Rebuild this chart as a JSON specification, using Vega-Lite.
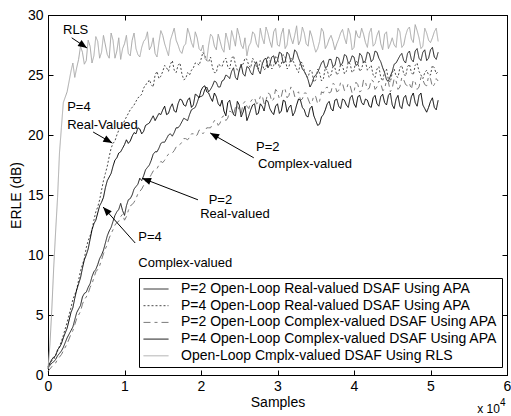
{
"$schema":"https://vega.github.io/schema/vega-lite/v6.json",
"width":459,"height":360,
"autosize":{"type":"none"},
"padding":{"left":48,"top":15,"right":4,"bottom":41},
"config":{
 "view":{"stroke":"#000","strokeWidth":1},
 "font":"Liberation Sans",
 "axis":{"domainColor":"#000","tickColor":"#000","labelColor":"#000","titleColor":"#000","labelFont":"Liberation Sans","titleFont":"Liberation Sans","labelFontSize":14,"titleFontSize":14,"titleFontWeight":"normal","grid":false,"labelBound":false,"labelOverlap":false,"labelFlush":false}
},
"datasets":{
 "curves":[
{"x":0,"a":0.6,"b":0.5,"c":0.3,"d":0.7,"e":0.5},
{"x":0.025,"a":0.8,"b":0.9,"c":0.5,"d":1.0,"e":2.5},
{"x":0.05,"a":1.0,"b":1.2,"c":0.7,"d":1.3,"e":5.5},
{"x":0.075,"a":1.1,"b":1.3,"c":0.9,"d":1.5,"e":9},
{"x":0.1,"a":1.3,"b":1.7,"c":1.0,"d":1.6,"e":12},
{"x":0.125,"a":1.6,"b":2.0,"c":1.3,"d":2.1,"e":14.8},
{"x":0.15,"a":1.8,"b":2.4,"c":1.5,"d":2.3,"e":18.5},
{"x":0.175,"a":2.0,"b":2.8,"c":1.7,"d":2.6,"e":20.6},
{"x":0.2,"a":2.3,"b":3.3,"c":2.0,"d":3.1,"e":22.7},
{"x":0.25,"a":3.1,"b":4.4,"c":2.6,"d":3.9,"e":23.6},
{"x":0.3,"a":3.7,"b":5.6,"c":3.4,"d":5.2,"e":25.3},
{"x":0.35,"a":4.6,"b":6.7,"c":4.2,"d":6.4,"e":24.8},
{"x":0.4,"a":5.5,"b":7.9,"c":5.0,"d":7.6,"e":26.3},
{"x":0.45,"a":6.5,"b":9.2,"c":5.9,"d":8.9,"e":26.9},
{"x":0.5,"a":6.9,"b":10.6,"c":6.5,"d":10.0,"e":26.2},
{"x":0.55,"a":7.6,"b":11.6,"c":7.3,"d":11.3,"e":27.4},
{"x":0.6,"a":8.6,"b":12.9,"c":8.1,"d":12.6,"e":26.6},
{"x":0.65,"a":9.2,"b":14.0,"c":8.8,"d":13.5,"e":27.8},
{"x":0.7,"a":10.0,"b":15.4,"c":9.6,"d":14.4,"e":26.9},
{"x":0.75,"a":11.0,"b":16.8,"c":10.5,"d":15.6,"e":27.5},
{"x":0.8,"a":12.0,"b":18.2,"c":11.4,"d":16.5,"e":26.4},
{"x":0.85,"a":12.8,"b":19.3,"c":12.1,"d":17.4,"e":27.9},
{"x":0.9,"a":13.6,"b":20.0,"c":12.7,"d":18.1,"e":27.0},
{"x":0.95,"a":14.3,"b":20.6,"c":13.2,"d":18.6,"e":26.3},
{"x":1.0,"a":13.3,"b":21.2,"c":12.9,"d":19.2,"e":27.6},
{"x":1.05,"a":14.6,"b":21.8,"c":13.7,"d":19.3,"e":26.8},
{"x":1.1,"a":15.0,"b":22.3,"c":14.2,"d":19.9,"e":27.9},
{"x":1.15,"a":15.7,"b":22.8,"c":14.7,"d":20.1,"e":27.2},
{"x":1.2,"a":16.4,"b":23.2,"c":15.3,"d":20.5,"e":26.5},
{"x":1.25,"a":16.6,"b":23.9,"c":15.8,"d":20.3,"e":27.8},
{"x":1.3,"a":17.3,"b":24.3,"c":16.3,"d":20.9,"e":28.6},
{"x":1.35,"a":17.9,"b":24.2,"c":16.7,"d":21.3,"e":27.4},
{"x":1.4,"a":18.6,"b":25.0,"c":17.1,"d":21.2,"e":26.8},
{"x":1.45,"a":18.9,"b":24.7,"c":17.5,"d":21.8,"e":27.7},
{"x":1.5,"a":19.4,"b":25.3,"c":17.7,"d":22.1,"e":28.3},
{"x":1.55,"a":19.7,"b":25.6,"c":18.2,"d":21.7,"e":27.1},
{"x":1.6,"a":20.1,"b":25.9,"c":18.5,"d":22.3,"e":27.9},
{"x":1.65,"a":20.2,"b":25.4,"c":18.7,"d":22.0,"e":28.9},
{"x":1.7,"a":20.6,"b":25.8,"c":19.1,"d":22.6,"e":27.5},
{"x":1.75,"a":21.1,"b":25.1,"c":19.4,"d":22.9,"e":26.8},
{"x":1.8,"a":21.3,"b":24.7,"c":19.7,"d":22.4,"e":27.6},
{"x":1.85,"a":21.7,"b":25.0,"c":19.8,"d":23.1,"e":28.4},
{"x":1.9,"a":22.2,"b":25.6,"c":20.1,"d":22.5,"e":27.3},
{"x":1.95,"a":22.7,"b":26.0,"c":20.0,"d":23.3,"e":28.1},
{"x":2.0,"a":23.2,"b":26.3,"c":20.4,"d":23.7,"e":27.0},
{"x":2.05,"a":23.8,"b":26.6,"c":20.3,"d":24.1,"e":26.4},
{"x":2.1,"a":23.6,"b":26.1,"c":20.6,"d":23.5,"e":27.5},
{"x":2.15,"a":24.1,"b":25.6,"c":20.9,"d":22.8,"e":28.2},
{"x":2.2,"a":24.4,"b":25.2,"c":21.2,"d":23.2,"e":27.1},
{"x":2.25,"a":24.0,"b":25.8,"c":21.0,"d":22.4,"e":27.8},
{"x":2.3,"a":24.6,"b":26.2,"c":21.6,"d":22.0,"e":26.9},
{"x":2.35,"a":24.9,"b":25.7,"c":21.4,"d":22.7,"e":27.9},
{"x":2.4,"a":25.3,"b":26.4,"c":21.9,"d":22.2,"e":28.7},
{"x":2.45,"a":24.8,"b":25.9,"c":22.3,"d":21.6,"e":27.4},
{"x":2.5,"a":25.4,"b":25.3,"c":22.0,"d":22.5,"e":28.3},
{"x":2.55,"a":25.1,"b":25.9,"c":22.6,"d":21.9,"e":27.2},
{"x":2.6,"a":25.7,"b":26.3,"c":22.4,"d":21.2,"e":26.6},
{"x":2.65,"a":25.2,"b":25.6,"c":22.8,"d":22.1,"e":27.7},
{"x":2.7,"a":25.8,"b":26.1,"c":23.1,"d":22.6,"e":28.4},
{"x":2.75,"a":25.4,"b":25.5,"c":22.7,"d":21.8,"e":27.3},
{"x":2.8,"a":25.9,"b":26.0,"c":23.3,"d":22.4,"e":28.1},
{"x":2.85,"a":26.4,"b":25.6,"c":22.9,"d":22.9,"e":29.0},
{"x":2.9,"a":25.9,"b":26.3,"c":23.4,"d":22.2,"e":27.8},
{"x":2.95,"a":26.6,"b":25.8,"c":23.0,"d":21.7,"e":28.6},
{"x":3.0,"a":26.2,"b":26.4,"c":23.6,"d":22.6,"e":27.5},
{"x":3.05,"a":26.8,"b":25.9,"c":23.2,"d":22.0,"e":28.4},
{"x":3.1,"a":26.1,"b":26.5,"c":23.8,"d":22.8,"e":27.2},
{"x":3.15,"a":26.7,"b":25.7,"c":23.3,"d":22.3,"e":28.8},
{"x":3.2,"a":26.3,"b":26.2,"c":23.9,"d":21.6,"e":27.6},
{"x":3.25,"a":26.9,"b":25.5,"c":23.4,"d":22.5,"e":29.1},
{"x":3.3,"a":26.0,"b":26.1,"c":22.9,"d":22.9,"e":27.9},
{"x":3.35,"a":25.3,"b":25.4,"c":23.5,"d":22.1,"e":28.5},
{"x":3.4,"a":24.6,"b":24.8,"c":23.0,"d":21.5,"e":27.4},
{"x":3.45,"a":24.3,"b":25.3,"c":22.7,"d":22.4,"e":28.2},
{"x":3.5,"a":25.0,"b":24.6,"c":23.2,"d":21.2,"e":26.9},
{"x":3.55,"a":25.6,"b":25.2,"c":22.8,"d":20.9,"e":27.8},
{"x":3.6,"a":26.2,"b":24.7,"c":23.5,"d":21.7,"e":28.6},
{"x":3.65,"a":25.7,"b":25.4,"c":24.0,"d":22.6,"e":27.5},
{"x":3.7,"a":26.3,"b":25.0,"c":23.6,"d":22.2,"e":28.3},
{"x":3.75,"a":25.8,"b":25.6,"c":24.2,"d":22.9,"e":27.1},
{"x":3.8,"a":26.4,"b":25.2,"c":23.7,"d":22.4,"e":28.0},
{"x":3.85,"a":26.0,"b":25.8,"c":24.3,"d":23.0,"e":28.8},
{"x":3.9,"a":26.6,"b":25.3,"c":23.8,"d":22.5,"e":27.6},
{"x":3.95,"a":26.1,"b":25.9,"c":24.1,"d":23.1,"e":28.4},
{"x":4.0,"a":26.5,"b":25.4,"c":23.6,"d":22.6,"e":27.3},
{"x":4.05,"a":25.9,"b":26.0,"c":24.2,"d":23.2,"e":28.2},
{"x":4.1,"a":26.6,"b":25.5,"c":23.7,"d":22.7,"e":28.9},
{"x":4.15,"a":26.2,"b":26.1,"c":24.4,"d":23.0,"e":27.7},
{"x":4.2,"a":26.8,"b":25.6,"c":23.9,"d":22.4,"e":28.5},
{"x":4.25,"a":26.3,"b":25.0,"c":24.5,"d":23.1,"e":27.4},
{"x":4.3,"a":26.9,"b":25.5,"c":24.0,"d":22.6,"e":28.3},
{"x":4.35,"a":26.1,"b":24.8,"c":24.3,"d":23.2,"e":27.6},
{"x":4.4,"a":25.2,"b":25.3,"c":23.8,"d":22.7,"e":28.4},
{"x":4.45,"a":24.5,"b":24.6,"c":24.4,"d":23.3,"e":27.2},
{"x":4.5,"a":25.3,"b":25.2,"c":23.9,"d":22.5,"e":28.1},
{"x":4.55,"a":26.0,"b":24.9,"c":24.5,"d":23.0,"e":27.3},
{"x":4.6,"a":26.6,"b":25.6,"c":24.0,"d":22.4,"e":28.6},
{"x":4.65,"a":26.2,"b":25.1,"c":24.6,"d":23.1,"e":27.5},
{"x":4.7,"a":26.8,"b":25.7,"c":24.1,"d":22.6,"e":28.8},
{"x":4.75,"a":26.3,"b":25.2,"c":23.8,"d":23.2,"e":28.0},
{"x":4.8,"a":27.0,"b":25.8,"c":24.4,"d":22.7,"e":29.2},
{"x":4.85,"a":26.4,"b":25.3,"c":24.0,"d":23.3,"e":28.1},
{"x":4.9,"a":26.9,"b":24.7,"c":24.6,"d":22.5,"e":27.4},
{"x":4.95,"a":26.2,"b":25.4,"c":24.1,"d":21.9,"e":28.5},
{"x":5.0,"a":27.1,"b":25.0,"c":24.7,"d":22.8,"e":27.7},
{"x":5.05,"a":26.5,"b":25.6,"c":24.2,"d":22.3,"e":28.6},
{"x":5.1,"a":26.9,"b":25.3,"c":24.5,"d":22.9,"e":27.8},
{"x":0.325,"a":4.0,"b":6.3,"c":3.7,"d":5.6,"e":26.0},
{"x":0.375,"a":5.2,"b":7.1,"c":4.7,"d":7.1,"e":25.6},
{"x":0.425,"a":5.8,"b":8.7,"c":5.3,"d":8.1,"e":27.4},
{"x":0.475,"a":6.8,"b":9.7,"c":6.3,"d":9.6,"e":25.9},
{"x":0.525,"a":7.3,"b":11.2,"c":6.8,"d":10.5,"e":27.9},
{"x":0.575,"a":8.2,"b":12.1,"c":7.6,"d":12.1,"e":26.0},
{"x":0.625,"a":8.8,"b":13.6,"c":8.6,"d":12.9,"e":28.2},
{"x":0.675,"a":9.7,"b":14.6,"c":9.1,"d":14.1,"e":26.4},
{"x":0.725,"a":10.4,"b":16.2,"c":10.1,"d":14.8,"e":28.3},
{"x":0.775,"a":11.6,"b":17.4,"c":10.9,"d":16.2,"e":26.7},
{"x":0.825,"a":12.3,"b":18.9,"c":11.8,"d":16.8,"e":28.5},
{"x":0.875,"a":13.3,"b":19.5,"c":12.5,"d":17.9,"e":26.4},
{"x":0.925,"a":13.8,"b":20.4,"c":12.8,"d":18.5,"e":28.1},
{"x":0.975,"a":13.7,"b":20.8,"c":13.4,"d":18.9,"e":27.2},
{"x":1.025,"a":14.1,"b":21.5,"c":13.2,"d":19.6,"e":28.3},
{"x":1.075,"a":14.7,"b":22.1,"c":14.1,"d":19.5,"e":26.6},
{"x":1.125,"a":15.5,"b":22.5,"c":14.4,"d":20.2,"e":28.5},
{"x":1.175,"a":15.9,"b":23.1,"c":15.1,"d":20.6,"e":26.7},
{"x":1.225,"a":16.2,"b":23.4,"c":15.5,"d":20.1,"e":27.3},
{"x":1.275,"a":17.1,"b":24.2,"c":16.1,"d":20.8,"e":28.0},
{"x":1.325,"a":17.5,"b":24.6,"c":16.4,"d":21.0,"e":27.1},
{"x":1.375,"a":18.4,"b":24.0,"c":17.0,"d":21.6,"e":28.1},
{"x":1.425,"a":18.6,"b":25.3,"c":17.2,"d":21.5,"e":26.5},
{"x":1.475,"a":19.3,"b":24.9,"c":17.8,"d":21.7,"e":28.7},
{"x":1.525,"a":19.4,"b":25.8,"c":17.9,"d":22.4,"e":27.6},
{"x":1.575,"a":20.0,"b":25.3,"c":18.4,"d":21.8,"e":26.6},
{"x":1.625,"a":19.9,"b":26.2,"c":18.5,"d":22.6,"e":28.4},
{"x":1.675,"a":20.6,"b":25.2,"c":19.0,"d":21.9,"e":27.9},
{"x":1.725,"a":20.8,"b":26.0,"c":19.2,"d":23.0,"e":27.0},
{"x":1.775,"a":21.4,"b":24.6,"c":19.7,"d":22.5,"e":27.4},
{"x":1.825,"a":21.2,"b":25.2,"c":19.6,"d":22.9,"e":28.9},
{"x":1.875,"a":22.1,"b":25.4,"c":20.1,"d":22.3,"e":27.7},
{"x":1.925,"a":22.3,"b":26.0,"c":19.9,"d":23.4,"e":28.6},
{"x":1.975,"a":23.2,"b":25.8,"c":20.4,"d":23.1,"e":27.2},
{"x":2.025,"a":23.3,"b":26.9,"c":20.1,"d":24.0,"e":27.5},
{"x":2.075,"a":24.0,"b":26.2,"c":20.6,"d":23.6,"e":26.2},
{"x":2.125,"a":23.8,"b":26.5,"c":20.6,"d":23.1,"e":28.4},
{"x":2.175,"a":24.5,"b":25.2,"c":21.2,"d":23.5,"e":27.4},
{"x":2.225,"a":24.0,"b":25.9,"c":20.8,"d":22.6,"e":28.4},
{"x":2.275,"a":24.5,"b":25.7,"c":21.5,"d":22.9,"e":27.2},
{"x":2.325,"a":25.0,"b":26.4,"c":21.2,"d":21.6,"e":28.5},
{"x":2.375,"a":24.7,"b":25.5,"c":22.0,"d":22.9,"e":27.1},
{"x":2.425,"a":25.6,"b":26.6,"c":21.7,"d":21.7,"e":28.1},
{"x":2.475,"a":24.6,"b":25.4,"c":22.5,"d":22.8,"e":28.9},
{"x":2.525,"a":25.9,"b":25.8,"c":21.8,"d":21.5,"e":27.5},
{"x":2.575,"a":24.9,"b":26.4,"c":22.8,"d":22.4,"e":28.1},
{"x":2.625,"a":25.6,"b":25.8,"c":22.2,"d":21.6,"e":27.4},
{"x":2.675,"a":25.0,"b":26.4,"c":23.0,"d":22.5,"e":28.6},
{"x":2.725,"a":26.1,"b":25.7,"c":22.6,"d":21.7,"e":27.6},
{"x":2.775,"a":25.1,"b":26.2,"c":23.2,"d":22.6,"e":28.9},
{"x":2.825,"a":26.3,"b":25.4,"c":22.6,"d":22.0,"e":27.6},
{"x":2.875,"a":25.6,"b":26.6,"c":23.5,"d":22.8,"e":28.5},
{"x":2.925,"a":26.5,"b":25.5,"c":22.8,"d":21.9,"e":27.3},
{"x":2.975,"a":25.9,"b":26.6,"c":23.8,"d":22.4,"e":28.9},
{"x":3.025,"a":26.9,"b":25.6,"c":23.0,"d":21.8,"e":27.4},
{"x":3.075,"a":26.0,"b":26.7,"c":23.9,"d":22.9,"e":28.9},
{"x":3.125,"a":26.9,"b":25.5,"c":23.1,"d":21.9,"e":27.5},
{"x":3.175,"a":26.1,"b":26.4,"c":24.0,"d":22.5,"e":28.1},
{"x":3.225,"a":27.1,"b":25.9,"c":23.2,"d":21.9,"e":28.3},
{"x":3.275,"a":26.4,"b":25.2,"c":23.6,"d":23.0,"e":27.5},
{"x":3.325,"a":25.5,"b":26.0,"c":23.0,"d":22.3,"e":29.0},
{"x":3.375,"a":25.0,"b":24.9,"c":23.5,"d":21.6,"e":27.6},
{"x":3.425,"a":24.0,"b":25.4,"c":22.6,"d":22.2,"e":28.7},
{"x":3.475,"a":24.8,"b":24.4,"c":23.3,"d":21.6,"e":27.5},
{"x":3.525,"a":25.2,"b":25.5,"c":22.6,"d":20.8,"e":27.2},
{"x":3.575,"a":26.0,"b":24.5,"c":23.6,"d":21.5,"e":28.9},
{"x":3.625,"a":25.6,"b":25.6,"c":23.9,"d":22.1,"e":27.2},
{"x":3.675,"a":26.3,"b":24.8,"c":23.5,"d":22.8,"e":28.0},
{"x":3.725,"a":25.7,"b":25.7,"c":24.3,"d":22.0,"e":27.8},
{"x":3.775,"a":26.5,"b":25.0,"c":23.6,"d":23.0,"e":27.6},
{"x":3.825,"a":25.8,"b":25.9,"c":24.4,"d":22.2,"e":28.5},
{"x":3.875,"a":26.7,"b":25.1,"c":23.7,"d":22.9,"e":28.1},
{"x":3.925,"a":26.0,"b":26.1,"c":24.3,"d":22.3,"e":28.9},
{"x":3.975,"a":26.6,"b":25.2,"c":23.5,"d":23.3,"e":27.1},
{"x":4.025,"a":25.8,"b":26.2,"c":24.4,"d":22.3,"e":28.7},
{"x":4.075,"a":26.8,"b":25.3,"c":23.6,"d":23.3,"e":28.1},
{"x":4.125,"a":26.0,"b":26.2,"c":24.6,"d":22.5,"e":28.4},
{"x":4.175,"a":26.9,"b":25.4,"c":23.8,"d":22.9,"e":27.3},
{"x":4.225,"a":26.1,"b":25.8,"c":24.6,"d":22.3,"e":28.9},
{"x":4.275,"a":27.0,"b":24.8,"c":23.8,"d":23.3,"e":27.6},
{"x":4.325,"a":26.4,"b":25.7,"c":24.5,"d":22.4,"e":28.7},
{"x":4.375,"a":25.6,"b":24.5,"c":23.7,"d":23.4,"e":27.1},
{"x":4.425,"a":24.6,"b":25.5,"c":24.6,"d":22.5,"e":28.6},
{"x":4.475,"a":24.9,"b":24.4,"c":23.6,"d":23.5,"e":27.6},
{"x":4.525,"a":25.9,"b":25.5,"c":24.7,"d":22.2,"e":27.5},
{"x":4.575,"a":26.3,"b":24.8,"c":23.8,"d":23.3,"e":28.9},
{"x":4.625,"a":26.8,"b":25.8,"c":24.8,"d":22.2,"e":27.3},
{"x":4.675,"a":26.0,"b":24.9,"c":24.2,"d":23.3,"e":28.3},
{"x":4.725,"a":27.0,"b":25.9,"c":24.3,"d":22.4,"e":29.0},
{"x":4.775,"a":26.1,"b":25.0,"c":24.6,"d":23.5,"e":27.7},
{"x":4.825,"a":27.2,"b":26.0,"c":23.8,"d":22.4,"e":28.7},
{"x":4.875,"a":26.2,"b":25.0,"c":24.8,"d":23.5,"e":27.2},
{"x":4.925,"a":27.1,"b":25.2,"c":24.2,"d":22.2,"e":28.9},
{"x":4.975,"a":26.4,"b":25.0,"c":24.9,"d":22.3,"e":27.9},
{"x":5.025,"a":27.3,"b":25.8,"c":24.0,"d":23.1,"e":28.1},
{"x":5.075,"a":26.3,"b":25.1,"c":24.7,"d":22.1,"e":28.9}
 ],
 "notes":[
{"x":0.196,"y":28.75,"t":"RLS"},
{"x":0.25,"y":22.3,"t":"P=4"},
{"x":0.25,"y":20.8,"t":"Real-Valued"},
{"x":2.1,"y":14.6,"t":"P=2"},
{"x":1.99,"y":13.4,"t":"Real-valued"},
{"x":2.72,"y":19.0,"t":"P=2"},
{"x":2.745,"y":17.6,"t":"Complex-valued"},
{"x":1.18,"y":11.5,"t":"P=4"},
{"x":1.18,"y":9.33,"t":"Complex-valued"}
 ],
 "arrows":[
{"id":"rls","x":0.31,"y":28.1,"x2":0.51,"y2":27.25},
{"id":"p4r","x":0.59,"y":20.25,"x2":0.84,"y2":19.33},
{"id":"p2r","x":1.96,"y":14.6,"x2":1.23,"y2":16.4},
{"id":"p2c","x":2.69,"y":18.1,"x2":2.12,"y2":20.17},
{"id":"p4c","x":1.14,"y":11.0,"x2":0.72,"y2":14.0}
 ],
 "exp":[{"x":5.61,"y":-3.2,"t":"x 10"}],
 "sup":[{"x":5.91,"y":-2.55,"t":"4"}]
},
"resolve":{"axis":{"x":"independent","y":"independent"}},
"layer":[
 {
  "data":{"name":"curves"},
  "transform":[{"fold":["a","b","c","d","e"],"as":["series","v"]}],
  "mark":{"type":"line","strokeWidth":1},
  "encoding":{
   "x":{"field":"x","type":"quantitative","scale":{"domain":[0,6],"nice":false},
        "axis":{"orient":"bottom","values":[0,1,2,3,4,5,6],"tickSize":-5,"labelPadding":9,"title":"Samples","titlePadding":2}},
   "y":{"field":"v","type":"quantitative","scale":{"domain":[0,30],"nice":false},
        "axis":{"orient":"left","values":[0,5,10,15,20,25,30],"tickSize":-5,"labelPadding":10,"title":"ERLE (dB)","titlePadding":4}},
   "color":{"field":"series","type":"nominal",
     "scale":{"domain":["a","b","c","d","e"],"range":["#1e1e1e","#4a4a4a","#7a7a7a","#000000","#a8a8a8"]},
     "legend":{"orient":"none","legendX":91,"legendY":263,"title":null,"strokeColor":"#000","fillColor":"#fff","padding":4,"rowPadding":2.7,"clipHeight":14,"symbolType":"stroke","symbolSize":625,"symbolStrokeWidth":1,"labelFontSize":14,"labelFont":"Liberation Sans","labelColor":"#000","labelOffset":12,"labelLimit":450,"cornerRadius":0,
       "labelExpr":"{'a':'P=2 Open-Loop Real-valued DSAF Using APA','b':'P=4 Open-Loop Real-valued DSAF Using APA','c':'P=2 Open-Loop Complex-valued DSAF Using APA','d':'P=4 Open-Loop Complex-valued DSAF Using APA','e':'Open-Loop Cmplx-valued DSAF Using RLS'}[datum.label]"}},
   "strokeDash":{"field":"series","type":"nominal",
     "scale":{"domain":["a","b","c","d","e"],"range":[[1,0],[2,2],[7,4,3,4],[1,0],[1,0]]}}
  }
 },
 {
  "data":{"values":[{}]},
  "mark":{"type":"point","opacity":0},
  "encoding":{
   "x":{"datum":0,"type":"quantitative","scale":{"domain":[0,6],"nice":false},"axis":{"orient":"top","values":[0,1,2,3,4,5,6],"tickSize":-5,"labels":false,"title":null}},
   "y":{"datum":0,"type":"quantitative","scale":{"domain":[0,30],"nice":false},"axis":{"orient":"right","values":[0,5,10,15,20,25,30],"tickSize":-5,"labels":false,"title":null}}
  }
 },
 {
  "data":{"name":"arrows"},
  "mark":{"type":"rule","color":"#000","strokeWidth":1},
  "encoding":{
   "x":{"field":"x","type":"quantitative","axis":null},
   "y":{"field":"y","type":"quantitative","axis":null},
   "x2":{"field":"x2"},
   "y2":{"field":"y2"}
  }
 },
 {
  "data":{"name":"arrows"},"transform":[{"filter":"datum.id=='rls'"}],
  "mark":{"type":"point","shape":"M0,0L-0.4,1L0.4,1Z","size":324,"angle":124,"filled":true,"color":"#000","opacity":1},
  "encoding":{"x":{"field":"x2","type":"quantitative","axis":null},"y":{"field":"y2","type":"quantitative","axis":null}}
 },
 {
  "data":{"name":"arrows"},"transform":[{"filter":"datum.id=='p4r'"}],
  "mark":{"type":"point","shape":"M0,0L-0.4,1L0.4,1Z","size":324,"angle":120,"filled":true,"color":"#000","opacity":1},
  "encoding":{"x":{"field":"x2","type":"quantitative","axis":null},"y":{"field":"y2","type":"quantitative","axis":null}}
 },
 {
  "data":{"name":"arrows"},"transform":[{"filter":"datum.id=='p2r'"}],
  "mark":{"type":"point","shape":"M0,0L-0.4,1L0.4,1Z","size":324,"angle":291,"filled":true,"color":"#000","opacity":1},
  "encoding":{"x":{"field":"x2","type":"quantitative","axis":null},"y":{"field":"y2","type":"quantitative","axis":null}}
 },
 {
  "data":{"name":"arrows"},"transform":[{"filter":"datum.id=='p2c'"}],
  "mark":{"type":"point","shape":"M0,0L-0.4,1L0.4,1Z","size":324,"angle":300,"filled":true,"color":"#000","opacity":1},
  "encoding":{"x":{"field":"x2","type":"quantitative","axis":null},"y":{"field":"y2","type":"quantitative","axis":null}}
 },
 {
  "data":{"name":"arrows"},"transform":[{"filter":"datum.id=='p4c'"}],
  "mark":{"type":"point","shape":"M0,0L-0.4,1L0.4,1Z","size":324,"angle":318,"filled":true,"color":"#000","opacity":1},
  "encoding":{"x":{"field":"x2","type":"quantitative","axis":null},"y":{"field":"y2","type":"quantitative","axis":null}}
 },
 {
  "data":{"name":"notes"},
  "mark":{"type":"text","align":"left","baseline":"middle","fontSize":13,"font":"Liberation Sans","color":"#000"},
  "encoding":{"x":{"field":"x","type":"quantitative","axis":null},"y":{"field":"y","type":"quantitative","axis":null},"text":{"field":"t"}}
 },
 {
  "data":{"name":"exp"},
  "mark":{"type":"text","align":"left","baseline":"alphabetic","fontSize":12,"font":"Liberation Sans","color":"#000"},
  "encoding":{"x":{"field":"x","type":"quantitative","axis":null},"y":{"field":"y","type":"quantitative","axis":null},"text":{"field":"t"}}
 },
 {
  "data":{"name":"sup"},
  "mark":{"type":"text","align":"left","baseline":"alphabetic","fontSize":10,"font":"Liberation Sans","color":"#000"},
  "encoding":{"x":{"field":"x","type":"quantitative","axis":null},"y":{"field":"y","type":"quantitative","axis":null},"text":{"field":"t"}}
 }
]
}
